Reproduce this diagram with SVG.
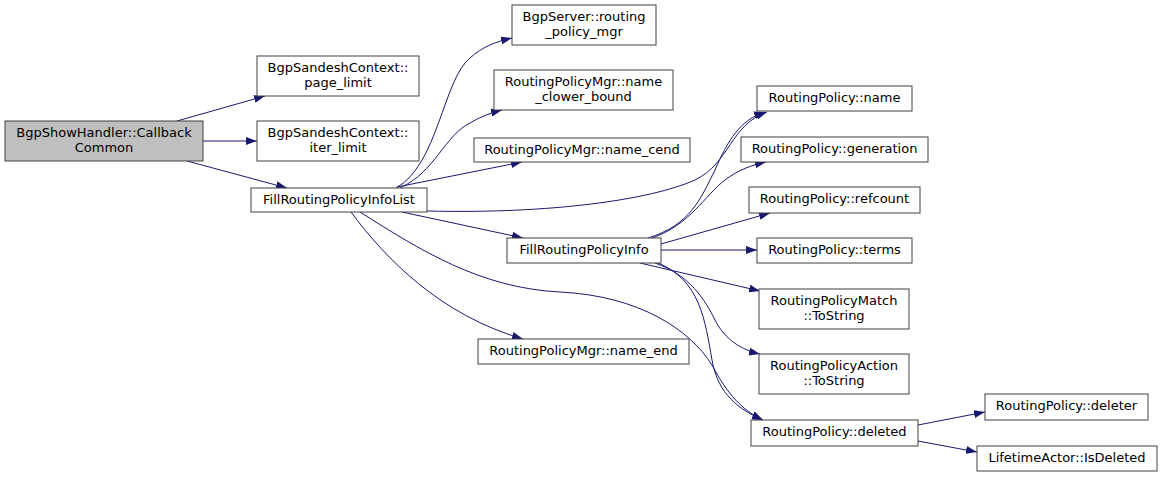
<svg xmlns="http://www.w3.org/2000/svg" width="1163" height="477" viewBox="0 0 1163 477">
<style>
.n rect{fill:#ffffff;stroke:#404040;stroke-width:1}
.n.root rect{fill:#bfbfbf}
.n text{font-family:"DejaVu Sans",sans-serif;font-size:13px;fill:#000000;text-anchor:middle}
.e path{fill:none;stroke:#191970;stroke-width:1}
</style>
<defs>
<marker id="ah" markerWidth="11" markerHeight="8" refX="11" refY="4" orient="auto" markerUnits="userSpaceOnUse">
<path d="M0,0 L11,4 L0,8 z" fill="#191970" stroke="none"/>
</marker>
</defs>
<rect width="1163" height="477" fill="#ffffff"/>
<g id="edges" class="e">
<path marker-end="url(#ah)" d="M177,121 L265,96"/>
<path marker-end="url(#ah)" d="M203,141 L257,141"/>
<path marker-end="url(#ah)" d="M187,161 L287,188"/>
<path marker-end="url(#ah)" d="M396,188 C438,165 443,80 470,58 C482,47 495,42 512,38"/>
<path marker-end="url(#ah)" d="M400,188 C435,172 445,135 470,123 C480,117 490,113 502,110"/>
<path marker-end="url(#ah)" d="M397,187 L522,162"/>
<path marker-end="url(#ah)" d="M427,211 C550,214 650,200 695,180 C730,163 730,125 767,112"/>
<path marker-end="url(#ah)" d="M402,212 L523,238"/>
<path marker-end="url(#ah)" d="M351,212 C385,258 440,315 523,339"/>
<path marker-end="url(#ah)" d="M360,212 C420,250 480,288 560,292 C640,296 690,330 712,365 C728,395 742,410 763,420"/>
<path marker-end="url(#ah)" d="M648,238 C690,225 700,200 715,170 C728,140 740,120 765,112"/>
<path marker-end="url(#ah)" d="M652,238 C690,225 705,195 725,180 C738,170 752,165 766,162"/>
<path marker-end="url(#ah)" d="M661,244 L770,213"/>
<path marker-end="url(#ah)" d="M661,250 L757,250"/>
<path marker-end="url(#ah)" d="M640,263 L760,291"/>
<path marker-end="url(#ah)" d="M655,263 C690,275 705,300 715,320 C725,340 742,350 760,354"/>
<path marker-end="url(#ah)" d="M658,263 C700,280 705,320 712,360 C718,395 740,410 763,420"/>
<path marker-end="url(#ah)" d="M918,425 L985,412"/>
<path marker-end="url(#ah)" d="M918,441 L977,452"/>
</g>
<g id="n1" class="n root"><rect x="5" y="121" width="198" height="40"/><text x="104" y="137">BgpShowHandler::Callback</text><text x="104" y="152">Common</text></g>
<g id="n2" class="n"><rect x="257" y="56" width="162" height="40"/><text x="338" y="72">BgpSandeshContext::</text><text x="338" y="87">page_limit</text></g>
<g id="n3" class="n"><rect x="257" y="121" width="162" height="40"/><text x="338" y="137">BgpSandeshContext::</text><text x="338" y="152">iter_limit</text></g>
<g id="n4" class="n"><rect x="251" y="188" width="176" height="24"/><text x="339" y="204">FillRoutingPolicyInfoList</text></g>
<g id="n5" class="n"><rect x="512" y="5" width="144" height="40"/><text x="584" y="21">BgpServer::routing</text><text x="584" y="36">_policy_mgr</text></g>
<g id="n6" class="n"><rect x="494" y="70" width="179" height="40"/><text x="583.5" y="86">RoutingPolicyMgr::name</text><text x="583.5" y="101">_clower_bound</text></g>
<g id="n7" class="n"><rect x="474" y="138" width="216" height="24"/><text x="582" y="154">RoutingPolicyMgr::name_cend</text></g>
<g id="n8" class="n"><rect x="507" y="238" width="154" height="25"/><text x="584" y="254">FillRoutingPolicyInfo</text></g>
<g id="n9" class="n"><rect x="478" y="339" width="211" height="25"/><text x="583.5" y="355">RoutingPolicyMgr::name_end</text></g>
<g id="n10" class="n"><rect x="757" y="86" width="155" height="25"/><text x="834.5" y="102">RoutingPolicy::name</text></g>
<g id="n11" class="n"><rect x="741" y="137" width="187" height="25"/><text x="834.5" y="153">RoutingPolicy::generation</text></g>
<g id="n12" class="n"><rect x="749" y="187" width="171" height="26"/><text x="834.5" y="203">RoutingPolicy::refcount</text></g>
<g id="n13" class="n"><rect x="757" y="238" width="155" height="25"/><text x="834.5" y="254">RoutingPolicy::terms</text></g>
<g id="n14" class="n"><rect x="759" y="289" width="150" height="40"/><text x="834" y="305">RoutingPolicyMatch</text><text x="834" y="320">::ToString</text></g>
<g id="n15" class="n"><rect x="759" y="354" width="150" height="40"/><text x="834" y="370">RoutingPolicyAction</text><text x="834" y="385">::ToString</text></g>
<g id="n16" class="n"><rect x="751" y="420" width="167" height="26"/><text x="834.5" y="436">RoutingPolicy::deleted</text></g>
<g id="n17" class="n"><rect x="985" y="394" width="163" height="26"/><text x="1066.5" y="410">RoutingPolicy::deleter</text></g>
<g id="n18" class="n"><rect x="977" y="446" width="180" height="25"/><text x="1067" y="462">LifetimeActor::IsDeleted</text></g>
</svg>
